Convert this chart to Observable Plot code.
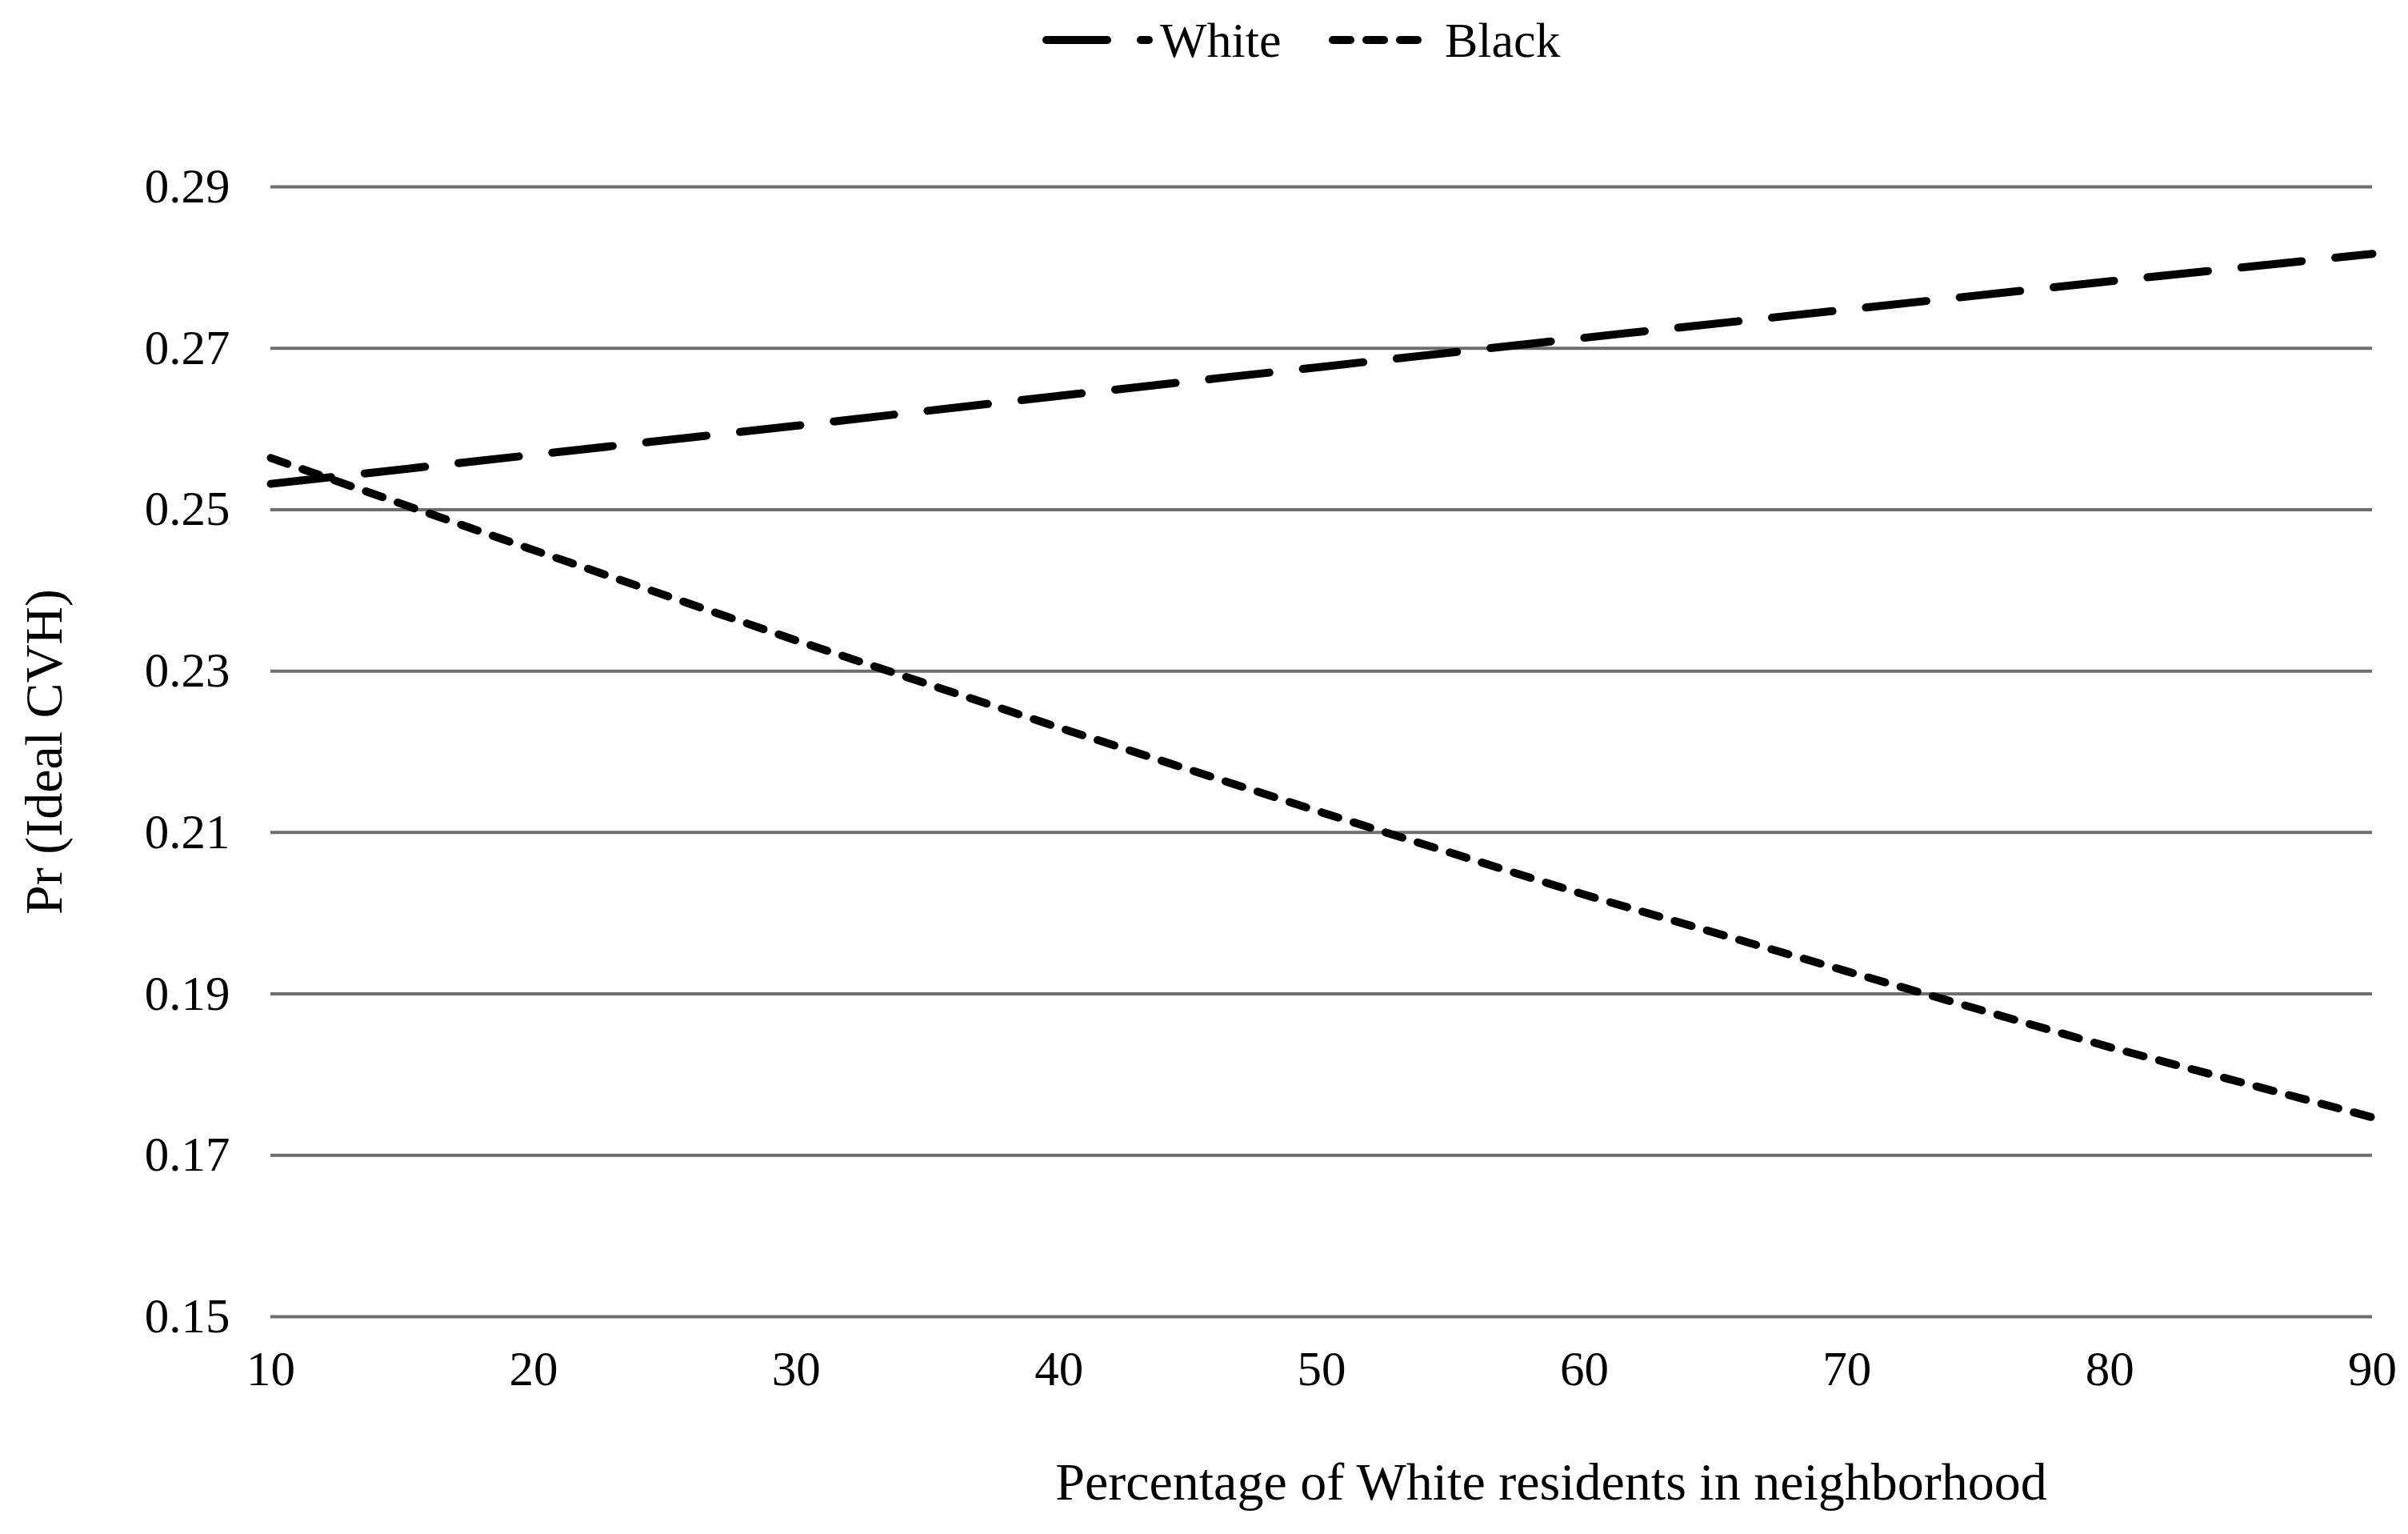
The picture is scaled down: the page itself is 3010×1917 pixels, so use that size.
<!DOCTYPE html>
<html>
<head>
<meta charset="utf-8">
<script src="https://cdn.jsdelivr.net/npm/d3@7"></script>
<script src="https://cdn.jsdelivr.net/npm/@observablehq/plot@0.6"></script>
<style>
  html, body { margin: 0; padding: 0; background: #fff; }
  #wrap { position: relative; width: 3010px; height: 1917px; font-family: "Liberation Serif", "Times New Roman", serif; }
  #legend { position: absolute; left: 0; top: 0; width: 3010px; height: 100px; font-size: 60px; color: #000; }
  #legend .item { position: absolute; top: 10px; height: 80px; display: flex; align-items: center; }
  #legend svg { display: block; }
</style>
</head>
<body>
<div id="wrap">
  <div id="legend"></div>
  <div id="chart"></div>
</div>
<script>
// ---- data ----
const pctWhite = [10, 20, 30, 40, 50, 60, 70, 80, 90];
const whiteValues = [0.2532, 0.2568, 0.2604, 0.2641, 0.2677, 0.2713, 0.2748, 0.2783, 0.2817];
const blackValues = [0.2564, 0.2450, 0.2338, 0.2230, 0.2125, 0.2023, 0.1928, 0.1834, 0.1747];
const seriesNames = ["White", "Black"];
const yTicks = [0.15, 0.17, 0.19, 0.21, 0.23, 0.25, 0.27, 0.29];
const xTicks = [10, 20, 30, 40, 50, 60, 70, 80, 90];
const xTitle = "Percentage of White residents in neighborhood";
const yTitle = "Pr (Ideal CVH)";

const whiteData = pctWhite.map((x, i) => ({x, y: whiteValues[i], group: "White"}));
const blackData = pctWhite.map((x, i) => ({x, y: blackValues[i], group: "Black"}));

const font = '"Liberation Serif", "Times New Roman", serif';

const chart = Plot.plot({
  width: 3010,
  height: 1917,
  marginTop: 233,
  marginBottom: 272,
  marginLeft: 338,
  marginRight: 45,
  style: {fontFamily: font, fontSize: "60px", color: "#000", background: "transparent", overflow: "visible"},
  x: {domain: [10, 90]},
  y: {domain: [0.15, 0.29]},
  marks: [
    Plot.gridY(yTicks, {stroke: "#6e6e6e", strokeOpacity: 1, strokeWidth: 4}),
    Plot.axisX(xTicks, {tickSize: 0, tickPadding: 42, label: null, fontSize: 61}),
    Plot.axisY(yTicks, {tickSize: 0, tickPadding: 51, tickFormat: ".2f", label: null, fontSize: 61}),
    Plot.line(whiteData, {x: "x", y: "y", stroke: "#000", strokeWidth: 10, strokeDasharray: "76,42", strokeLinecap: "round"}),
    Plot.line(blackData, {x: "x", y: "y", stroke: "#000", strokeWidth: 10, strokeDasharray: "22,20", strokeLinecap: "round"}),
    Plot.text([yTitle], {frameAnchor: "left", dx: -283, rotate: -90, textAnchor: "middle", lineAnchor: "middle", fontSize: 66, fill: "#000"}),
    Plot.text([xTitle], {frameAnchor: "bottom", dx: 287, dy: 207, textAnchor: "middle", lineAnchor: "middle", fontSize: 66, fill: "#000"})
  ]
});
document.getElementById("chart").appendChild(chart);

// ---- legend ----
const legend = document.getElementById("legend");
const legendSpec = [
  {name: seriesNames[0], left: 1300, w: 150, dash: "76,42"},
  {name: seriesNames[1], left: 1658, w: 148, dash: "22,20"}
];
for (const s of legendSpec) {
  const item = document.createElement("div");
  item.className = "item";
  item.style.left = s.left + "px";
  const svg = d3.create("svg").attr("width", s.w).attr("height", 40);
  svg.append("line").attr("x1", 8).attr("x2", s.name === "Black" ? s.w - 26 : s.w - 14).attr("y1", 20).attr("y2", 20)
    .attr("stroke", "#000").attr("stroke-width", 10).attr("stroke-linecap", "round")
    .attr("stroke-dasharray", s.dash);
  item.appendChild(svg.node());
  const label = document.createElement("span");
  label.textContent = s.name;
  label.style.fontSize = "62px";
  item.appendChild(label);
  legend.appendChild(item);
}
</script>
</body>
</html>
